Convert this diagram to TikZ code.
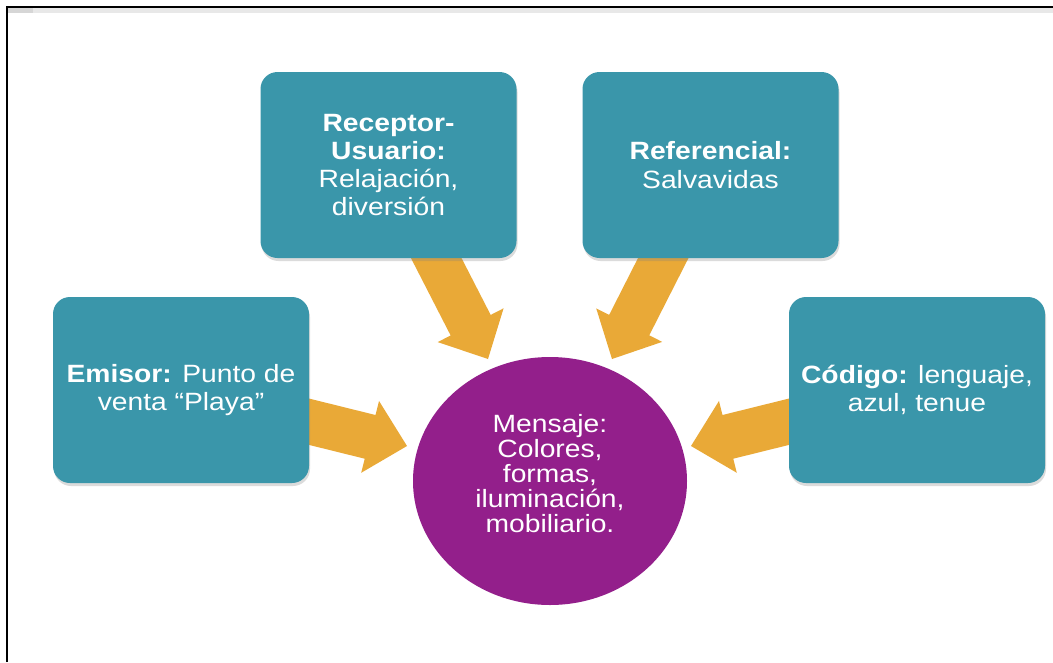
\documentclass[tikz,border=0pt]{standalone}
\usepackage{fontspec}
\setmainfont{Liberation Sans}[FakeStretch=1.13]
\usetikzlibrary{calc,backgrounds,shadows,shapes.geometric}

\definecolor{boxteal}{RGB}{58,150,170}
\definecolor{msgpurple}{RGB}{147,31,139}
\definecolor{flowgold}{RGB}{233,169,55}

\tikzset{
  rolebox/.style={fill=boxteal, rounded corners=17pt, minimum width=256pt,
    minimum height=186pt, inner sep=0pt, text=white, align=center,
    font=\fontsize{25}{28.3}\selectfont,
    drop shadow={opacity=0.28, shadow xshift=1pt, shadow yshift=-3pt}},
  msgnode/.style={ellipse, fill=msgpurple, minimum width=274pt,
    minimum height=248pt, inner sep=0pt},
  msgtext/.style={text=white, align=center, inner sep=0pt,
    font=\fontsize{25}{25}\selectfont},
}

% block arrow from the centre of a box (hidden behind it) to a tip point
\newcommand{\blockarrow}[2]{%
  \coordinate (ba-h) at ($(#2)!38pt!(#1.center)$);
  \fill[flowgold]
    ($(#1.center)!22.5pt!90:(#2)$) --
    ($(ba-h)!22.5pt!-90:(#1.center)$) --
    ($(ba-h)!37pt!-90:(#1.center)$) --
    (#2) --
    ($(ba-h)!37pt!90:(#1.center)$) --
    ($(ba-h)!22.5pt!90:(#1.center)$) --
    ($(#1.center)!22.5pt!-90:(#2)$) -- cycle;
}

\begin{document}
\begin{tikzpicture}[x=1pt, y=-1pt]
  \useasboundingbox (0,0) rectangle (1053,662);

  % frame
  \fill[black!9] (8.3,8.3) rectangle (1053,12.5);
  \fill[black!16] (8.3,8.3) rectangle (33,13);
  \draw[line width=2.5pt] (7.2,662) -- (7.2,7.2) -- (1053,7.2);

  % central message
  \node[msgnode] (msg) at (550,481) {};
  \node[msgtext] (msgtext) at (550,474)
    {Mensaje:\\Colores,\\formas,\\iluminación,\\mobiliario.};

  % surrounding roles
  \node[rolebox] (receptor) at (388.5,165)
    {\textbf{Receptor-}\\\textbf{Usuario:}\\Relajación,\\diversión};
  \node[rolebox] (referencial) at (710.5,165)
    {\textbf{Referencial:}\\Salvavidas};
  \node[rolebox] (emisor) at (181,390)
    {\textbf{Emisor:} Punto de\\venta “Playa”};
  \node[rolebox] (codigo) at (917,390)
    {\textbf{Código:} lenguaje,\\azul, tenue};

  % arrow tips
  \coordinate (tipE) at (407,446);
  \coordinate (tipR) at (488,359);
  \coordinate (tipF) at (612,359);
  \coordinate (tipC) at (691,446);

  \begin{scope}[on background layer]
    \fill[white] (0,0) rectangle (1053,662);
    \blockarrow{emisor}{tipE}
    \blockarrow{receptor}{tipR}
    \blockarrow{referencial}{tipF}
    \blockarrow{codigo}{tipC}
  \end{scope}
\end{tikzpicture}
\end{document}
